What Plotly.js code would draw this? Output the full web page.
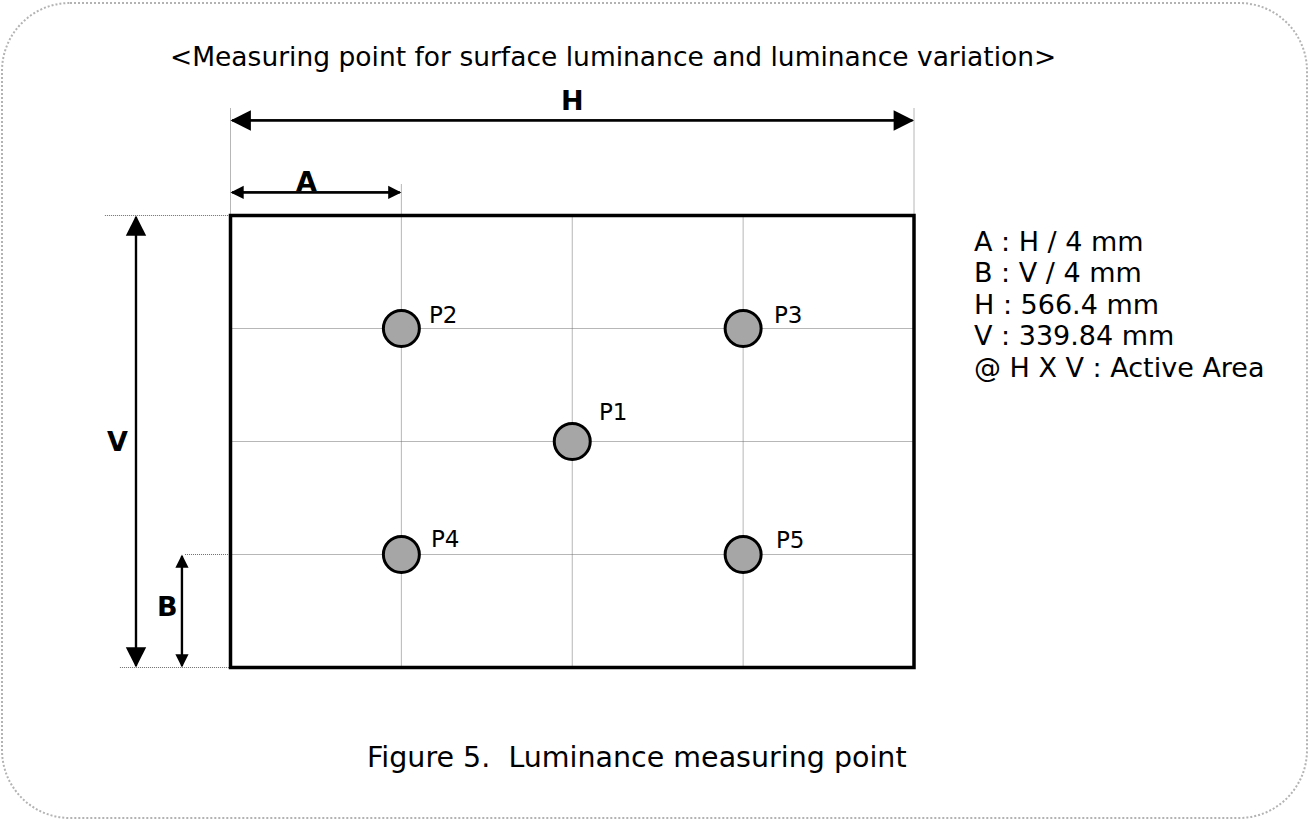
<!DOCTYPE html>
<html>
<head>
<meta charset="utf-8">
<script src="https://cdn.plot.ly/plotly-3.0.1.min.js"></script>
<style>html,body{margin:0;padding:0;background:#fff;}#chart{width:1309px;height:820px;}</style>
</head>
<body>
<div id="chart"></div>
<script>
// ---- Data ----
const pointNames = ['P1', 'P2', 'P3', 'P4', 'P5'];
const pointX = [2, 1, 3, 1, 3];   // in quarters of H  (A = H / 4)
const pointY = [2, 3, 3, 1, 1];   // in quarters of V  (B = V / 4)
const gridDivs = [1, 2, 3];
const dimensionLabels = ['H', 'A', 'V', 'B'];
const specLines = ['A : H / 4 mm', 'B : V / 4 mm', 'H : 566.4 mm', 'V : 339.84 mm', '@ H X V : Active Area'];
const chartTitle = '<Measuring point for surface luminance and luminance variation>';
const captionText = 'Figure 5.  Luminance measuring point';

// ---- Layout helpers ----
const W = 1309, HH = 820;
const FONT = 'DejaVu Sans, Verdana, sans-serif';
function esc(s) { return s.replace(/&/g, '&amp;').replace(/</g, '&lt;').replace(/>/g, '&gt;').replace(/  /g, ' \u00a0'); }
function px(x) { return x / W; }
function py(y) { return 1 - y / HH; }

// rounded dotted border (paper coords, built from pixel geometry)
const bx0 = 2, by0 = 3, bx1 = 1307, by1 = 818, r = 68, k = 0.5523 * r;
const P = (x, y) => px(x).toFixed(5) + ',' + py(y).toFixed(5);
const borderPath = 'M' + P(bx0 + r, by0) + 'L' + P(bx1 - r, by0) +
  'C' + P(bx1 - r + k, by0) + ' ' + P(bx1, by0 + r - k) + ' ' + P(bx1, by0 + r) +
  'L' + P(bx1, by1 - r) +
  'C' + P(bx1, by1 - r + k) + ' ' + P(bx1 - r + k, by1) + ' ' + P(bx1 - r, by1) +
  'L' + P(bx0 + r, by1) +
  'C' + P(bx0 + r - k, by1) + ' ' + P(bx0, by1 - r + k) + ' ' + P(bx0, by1 - r) +
  'L' + P(bx0, by0 + r) +
  'C' + P(bx0, by0 + r - k) + ' ' + P(bx0 + r - k, by0) + ' ' + P(bx0 + r, by0) + 'Z';

const dotLine = {color: '#6e6e6e', width: 1, dash: '1px,1px'};
const shapes = [];
shapes.push({type: 'path', xref: 'paper', yref: 'paper', path: borderPath,
  line: {color: '#b3b3b3', width: 2, dash: '2px,2px'}, layer: 'below'});

// inner grid
gridDivs.forEach(g => {
  shapes.push({type: 'line', x0: g, x1: g, y0: 0, y1: 4, line: dotLine, layer: 'below'});
  shapes.push({type: 'line', x0: 0, x1: 4, y0: g, y1: g, line: dotLine, layer: 'below'});
});
// extension lines for dimensions
const ext = [
  [0, 4, 0, 4.947], [4, 4, 4, 4.947],      // H
  [1, 4, 1, 4.283],                        // A
  [-0.735, 4, 0, 4], [-0.647, 0, 0, 0],    // V
  [-0.266, 1, 0, 1]                        // B
];
ext.forEach(e => shapes.push({type: 'line', x0: e[0], y0: e[1], x1: e[2], y1: e[3], line: dotLine, layer: 'below'}));
// active area rectangle
shapes.push({type: 'rect', x0: 0, x1: 4, y0: 0, y1: 4, line: {color: '#000', width: 3.5}, fillcolor: 'rgba(0,0,0,0)'});

// ---- Annotations ----
const ann = [];
function dimArrow(xa, ya, xb, yb, size) {
  const base = {xref: 'x', yref: 'y', axref: 'x', ayref: 'y', text: '', showarrow: true,
    arrowhead: 2, arrowsize: size, arrowwidth: 2.2, arrowcolor: '#000', standoff: 0};
  ann.push(Object.assign({}, base, {x: xb, y: yb, ax: xa, ay: ya}));
  ann.push(Object.assign({}, base, {x: xa, y: ya, ax: xb, ay: yb}));
}
dimArrow(0, 4.841, 4, 4.841, 1.85);     // H
dimArrow(0, 4.204, 1, 4.204, 1.2);      // A
dimArrow(-0.553, 0, -0.553, 4, 1.85);   // V
dimArrow(-0.284, 0, -0.284, 1, 1.2);    // B

const dimLabelPos = [[2, 5.018], [0.442, 4.301], [-0.664, 2], [-0.366, 0.54]];
dimensionLabels.forEach((t, i) => ann.push({x: dimLabelPos[i][0], y: dimLabelPos[i][1], xref: 'x', yref: 'y',
  text: '<b>' + t + '</b>', showarrow: false, font: {family: FONT, size: 27, color: '#000'}}));

// point labels
const labelShift = [[25, 30], [26, 14], [29, 14], [28, 16], [31, 15]];
pointNames.forEach((n, i) => ann.push({x: pointX[i], y: pointY[i], xref: 'x', yref: 'y', text: n,
  showarrow: false, xanchor: 'left', yanchor: 'middle', xshift: labelShift[i][0], yshift: labelShift[i][1],
  font: {family: FONT, size: 23, color: '#000'}}));

// spec text
specLines.forEach((t, i) => ann.push({x: 4.339, y: 3.77, xref: 'x', yref: 'y', text: esc(t), showarrow: false,
  xanchor: 'left', yanchor: 'middle', yshift: -31.5 * i, font: {family: FONT, size: 27, color: '#000'}}));

// title & caption
ann.push({x: 2.238, y: 5.407, xref: 'x', yref: 'y', text: esc(chartTitle), showarrow: false,
  font: {family: FONT, size: 26.5, color: '#000'}});
ann.push({x: 2.379, y: -0.796, xref: 'x', yref: 'y', text: esc(captionText), showarrow: false,
  font: {family: FONT, size: 28.5, color: '#000'}});

const trace = {
  x: pointX, y: pointY, type: 'scatter', mode: 'markers', hoverinfo: 'skip', cliponaxis: false,
  marker: {size: 36, color: '#a6a6a6', line: {width: 3, color: '#000'}}
};

const yOff = 0.5 / 113;  // half-pixel alignment for crisp horizontal dotted lines
const layout = {
  width: W, height: HH, autosize: false,
  margin: {l: 0, r: 0, t: 0, b: 0, pad: 0},
  paper_bgcolor: '#fff', plot_bgcolor: '#fff', showlegend: false,
  xaxis: {range: [-1.3489, 6.3116], visible: false, showgrid: false, zeroline: false, fixedrange: true},
  yaxis: {range: [-1.354 + yOff, 5.9027 + yOff], visible: false, showgrid: false, zeroline: false, fixedrange: true},
  shapes: shapes, annotations: ann
};

Plotly.newPlot('chart', [trace], layout, {staticPlot: true, displayModeBar: false});
</script>
</body>
</html>
